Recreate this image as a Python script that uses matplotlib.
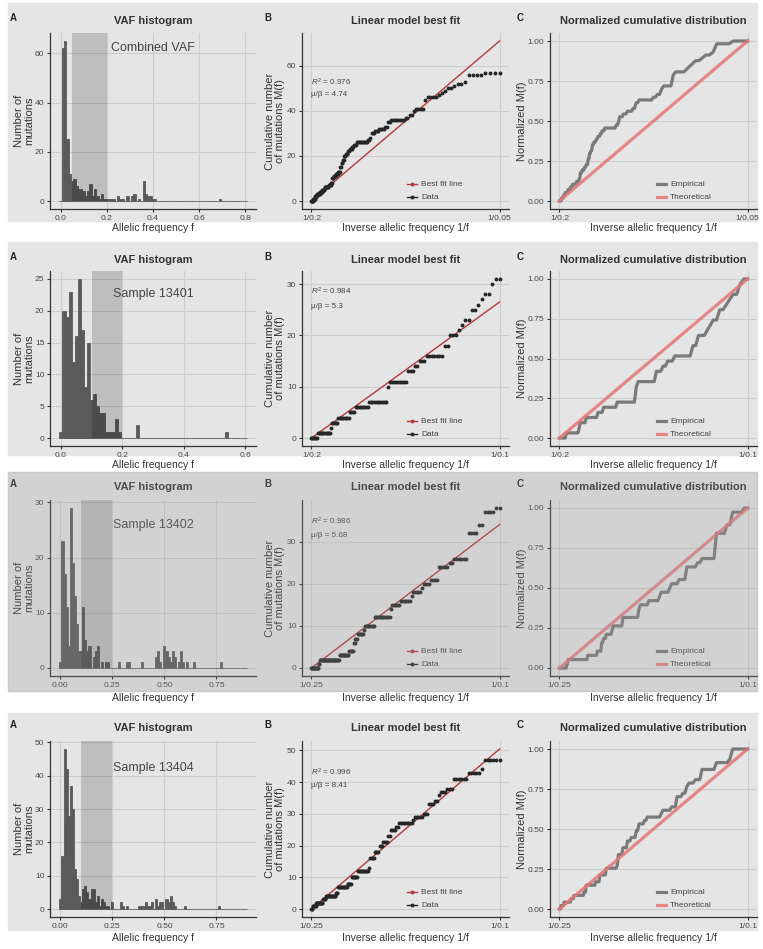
import numpy as np
import matplotlib
matplotlib.use("Agg")
import matplotlib.pyplot as plt
from matplotlib.patches import Rectangle

plt.rcParams['font.family'] = ['Liberation Sans', 'DejaVu Sans']
plt.rcParams['mathtext.fontset'] = 'custom'
plt.rcParams['mathtext.rm'] = 'Liberation Sans'
plt.rcParams['mathtext.it'] = 'Liberation Sans:italic'

W, H = 763, 949

# ---------------- data ----------------
sample_names = ['Combined VAF', 'Sample 13401', 'Sample 13402', 'Sample 13404']
fmin = [0.05, 0.1, 0.1, 0.1]
fmax = [0.2, 0.2, 0.25, 0.25]
r_squared = [0.976, 0.984, 0.986, 0.996]
mu_beta = [4.74, 5.3, 5.68, 8.41]
hist_end = [0.80, 0.60, 0.89, 0.89]

# VAF histogram, bin width 0.01: bin centres with non-zero counts
h1_f = [0.01, 0.02, 0.03, 0.04, 0.05, 0.06, 0.07, 0.08, 0.09, 0.10, 0.11, 0.12, 0.13, 0.14,
        0.15, 0.16, 0.17, 0.18, 0.19, 0.20, 0.21, 0.22, 0.23, 0.25, 0.26, 0.27, 0.29, 0.31,
        0.32, 0.34, 0.36, 0.37, 0.38, 0.39, 0.40, 0.41, 0.69]
h1_n = [62, 65, 25, 11, 8, 9, 6, 5, 5, 4, 2, 4, 7, 2,
        5, 2, 1, 3, 1, 1, 1, 1, 1, 2, 1, 1, 2, 2,
        3, 1, 8, 3, 2, 2, 1, 1, 1]

h2_f = [0.00, 0.01, 0.02, 0.03, 0.04, 0.05, 0.06, 0.07, 0.08, 0.09, 0.10, 0.11, 0.12, 0.13,
        0.14, 0.15, 0.16, 0.17, 0.18, 0.19, 0.25, 0.54]
h2_n = [1, 20, 19, 23, 12, 16, 25, 17, 8, 15, 6, 7, 5, 4,
        4, 1, 1, 1, 3, 1, 2, 1]

h3_f = [0.00, 0.01, 0.02, 0.03, 0.04, 0.05, 0.06, 0.07, 0.08, 0.09, 0.10, 0.11, 0.12, 0.13,
        0.14, 0.16, 0.17, 0.18, 0.20, 0.22, 0.23, 0.28, 0.32, 0.33, 0.39, 0.46, 0.47, 0.48,
        0.50, 0.51, 0.52, 0.53, 0.54, 0.55, 0.57, 0.58, 0.59, 0.61, 0.64, 0.77]
h3_n = [1, 23, 17, 11, 4, 29, 19, 13, 8, 3, 3, 11, 5, 3,
        4, 2, 3, 4, 1, 1, 1, 1, 1, 1, 1, 2, 3, 1,
        4, 3, 2, 1, 3, 2, 1, 3, 1, 1, 1, 1]

h4_f = [0.00, 0.01, 0.02, 0.03, 0.04, 0.05, 0.06, 0.07, 0.08, 0.09, 0.10, 0.11, 0.12, 0.13,
        0.14, 0.15, 0.16, 0.17, 0.18, 0.19, 0.20, 0.21, 0.22, 0.23, 0.25, 0.29, 0.30, 0.32,
        0.38, 0.39, 0.40, 0.41, 0.42, 0.43, 0.44, 0.46, 0.47, 0.48, 0.49, 0.51, 0.52, 0.53,
        0.54, 0.55, 0.60, 0.76]
h4_n = [3, 16, 48, 42, 28, 37, 30, 12, 9, 4, 2, 6, 7, 5,
        3, 6, 6, 2, 4, 1, 3, 2, 1, 1, 2, 2, 1, 1,
        1, 1, 1, 2, 1, 1, 2, 3, 1, 2, 2, 3, 2, 4,
        2, 1, 1, 1]

# cumulative M(f): inverse frequency 1/f where each level starts, and the level
c1_x = [5.0, 5.15, 5.3, 5.45, 5.65, 5.85, 6.05, 6.35, 6.55, 6.65, 6.8, 6.95, 7.1, 7.25,
        7.4, 7.5, 7.6, 7.75, 7.9, 8.05, 8.2, 8.35, 8.6, 9.5, 9.65, 9.8, 10.05, 10.35,
        10.8, 11.05, 11.3, 12.45, 12.75, 13.0, 13.2, 13.9, 14.05, 14.25, 15.0, 15.35, 15.55,
        15.8, 16.2, 16.6, 16.95, 17.35, 18.85]
c1_m = [0, 1, 2, 3, 4, 5, 6, 7, 8, 10, 11, 12, 13, 15,
        17, 18, 20, 21, 22, 23, 24, 25, 26, 27, 28, 30, 31, 32,
        33, 35, 36, 37, 38, 40, 41, 43, 45, 46, 47, 48, 49,
        50, 51, 52, 53, 56, 57]

c2_x = [5.0, 5.16, 5.5, 5.53, 5.69, 6.0, 6.14, 6.5, 7.02, 7.06, 7.56, 7.73, 7.82, 8.02,
        8.5, 8.66, 8.9, 8.97, 9.03, 9.2, 9.4, 9.48, 9.56, 9.76, 9.85]
c2_m = [0, 1, 2, 3, 4, 5, 6, 7, 10, 11, 13, 14, 15, 16,
        18, 20, 21, 22, 23, 25, 26, 27, 28, 30, 31]

c3_x = [4.0, 4.22, 4.26, 4.88, 5.2, 5.345, 5.38, 5.48, 5.68, 5.7, 6.0, 6.5, 6.56, 6.82,
        7.16, 7.24, 7.47, 7.54, 7.8, 8.04, 8.37, 8.52, 8.96, 9.3, 9.5, 9.86]
c3_m = [0, 1, 2, 3, 4, 6, 7, 8, 9, 10, 12, 14, 15, 16,
        17, 18, 19, 20, 21, 24, 25, 26, 32, 34, 37, 38]

c4_x = [4.0, 4.04, 4.14, 4.35, 4.45, 4.78, 4.84, 5.15, 5.27, 5.48, 5.84, 5.88, 5.99, 6.17,
        6.27, 6.45, 6.5, 6.7, 6.77, 7.22, 7.27, 7.52, 7.75, 7.9, 8.02, 8.1, 8.32, 8.5,
        8.96, 9.4, 9.5]
c4_m = [0, 1, 2, 3, 4, 5, 7, 8, 10, 12, 13, 16, 18, 20,
        21, 23, 25, 26, 27, 28, 29, 30, 33, 34, 36, 37, 38, 41,
        43, 44, 47]

hist_f = [h1_f, h2_f, h3_f, h4_f]
hist_n = [h1_n, h2_n, h3_n, h4_n]
cum_x = [c1_x, c2_x, c3_x, c4_x]
cum_m = [c1_m, c2_m, c3_m, c4_m]

hist_xticks = [[0, 0.2, 0.4, 0.6, 0.8], [0, 0.2, 0.4, 0.6], [0, 0.25, 0.5, 0.75], [0, 0.25, 0.5, 0.75]]
hist_xfmt = ['{:.1f}', '{:.1f}', '{:.2f}', '{:.2f}']
hist_yticks = [[0, 20, 40, 60], [0, 5, 10, 15, 20, 25], [0, 10, 20, 30], [0, 10, 20, 30, 40, 50]]
fit_yticks = [[0, 20, 40, 60], [0, 10, 20, 30], [0, 10, 20, 30], [0, 10, 20, 30, 40, 50]]

# ---------------- layout (pixels) ----------------
row_top = [33, 271, 500, 741]
row_bot = [209, 446, 676, 917]
bg_span = [(3, 221), (242, 455), (472, 691), (713, 930)]
xlab_y = [228, 465, 698, 938]
title_y = [21, 260, 487, 728]
cols = [(50, 256), (302, 509), (550, 757)]
name_y = [0.915, 0.87, 0.858, 0.846]
ann_y = [(0.72, 0.653), (0.881, 0.799), (0.88, 0.801), (0.824, 0.748)]

BG = '#e5e5e5'
GRID = '#cdcdcd'
TXT = '#333333'
TICK = '#474747'
BAR = '#5a5a5a'
RED = '#b5393a'
PINK = '#e57676'

fig = plt.figure(figsize=(W / 100, H / 100), dpi=100)


def px_axes(l, r, t, b):
    return fig.add_axes([l / W, 1 - b / H, (r - l) / W, (b - t) / H])


def style(ax):
    ax.set_facecolor('none')
    for s in ['top', 'right']:
        ax.spines[s].set_visible(False)
    for s in ['left', 'bottom']:
        ax.spines[s].set_color(TXT)
        ax.spines[s].set_linewidth(0.9)
    ax.tick_params(length=2.5, width=0.8, color=TXT, labelsize=6.1, labelcolor=TICK, pad=1.5)
    ax.grid(True, color=GRID, lw=0.8)
    ax.set_axisbelow(True)


def cumulative(fhi, flo, jx, jm):
    f = np.round(np.arange(fhi, flo - 1e-9, -0.001), 3)
    x = 1 / f
    idx = np.searchsorted(jx, x + 1e-9, side='right') - 1
    return x, np.asarray(jm)[idx]


for i in range(4):
    t, b = row_top[i], row_bot[i]
    y0, y1 = bg_span[i]
    fig.patches.append(Rectangle((8 / W, 1 - y1 / H), (757 - 8) / W, (y1 - y0) / H,
                                 transform=fig.transFigure, color=BG, zorder=-10))

    # ---- A: VAF histogram ----
    ax = px_axes(cols[0][0], cols[0][1], t, b)
    style(ax)
    centres = np.round(np.arange(0, hist_end[i] + 1e-9, 0.01), 2)
    counts = np.zeros(len(centres))
    for f, n in zip(hist_f[i], hist_n[i]):
        counts[int(round(f / 0.01))] = n
    ax.bar(centres, counts, width=0.01, color=BAR, edgecolor=BAR, linewidth=0.6, zorder=2)
    top = max(counts)
    span = hist_end[i] + 0.01
    ax.set_xlim(-0.005 - 0.05 * span, hist_end[i] + 0.005 + 0.05 * span)
    ax.set_ylim(-0.05 * top, 1.05 * top)
    ax.axvspan(fmin[i], fmax[i], ymin=0.05 / 1.1, ymax=1, color='black', alpha=0.17, lw=0, zorder=3)
    ax.set_xticks(hist_xticks[i])
    ax.set_xticklabels([hist_xfmt[i].format(v) for v in hist_xticks[i]])
    ax.set_yticks(hist_yticks[i])
    ax.text(0.5, name_y[i], sample_names[i], transform=ax.transAxes, ha='center', va='center',
            fontsize=9, color='#444444', zorder=4)

    # ---- B: linear model fit ----
    x, m = cumulative(fmax[i], fmin[i], cum_x[i], cum_m[i])
    x0, x1 = 1 / fmax[i], 1 / fmin[i]
    ax = px_axes(cols[1][0], cols[1][1], t, b)
    style(ax)
    ax.plot([x0, x1], [0, mu_beta[i] * (x1 - x0)], color=RED, lw=1.0, zorder=2)
    ax.plot(x, m, 'o', color='#262626', ms=2.8, mew=0, zorder=3)
    top = max(m.max(), mu_beta[i] * (x1 - x0))
    ax.set_xlim(x0 - 0.05 * (x1 - x0), x1 + 0.05 * (x1 - x0))
    ax.set_ylim(-0.05 * top, 1.05 * top)
    ax.set_xticks([x0, x1])
    ax.set_xticklabels([f'1/{fmax[i]:g}', f'1/{fmin[i]:g}'])
    ax.set_yticks(fit_yticks[i])
    ax.text(0.043, ann_y[i][0], rf'$R^2$ = {r_squared[i]:g}', transform=ax.transAxes,
            fontsize=5.8, color='#444444', va='center')
    ax.text(0.043, ann_y[i][1], f'μ/β = {mu_beta[i]:g}', transform=ax.transAxes,
            fontsize=5.8, color='#444444', va='center')
    for yy, col, lab in [(0.142, RED, 'Best fit line'), (0.068, '#262626', 'Data')]:
        ax.plot([0.505, 0.556], [yy, yy], color=col, lw=1.0, transform=ax.transAxes, clip_on=False)
        ax.plot([0.5305], [yy], 'o', color=col, ms=2.8, mew=0, transform=ax.transAxes, clip_on=False)
        ax.text(0.575, yy, lab, transform=ax.transAxes, fontsize=6, color='#444444', va='center')

    # ---- C: normalized cumulative ----
    ax = px_axes(cols[2][0], cols[2][1], t, b)
    style(ax)
    ax.plot(x, m / m[-1], color='#6e6e6e', lw=2.3, alpha=0.9, zorder=2)
    ax.plot([x0, x1], [0, 1], color=PINK, lw=2.3, alpha=0.85, zorder=3)
    ax.set_xlim(x0 - 0.05 * (x1 - x0), x1 + 0.05 * (x1 - x0))
    ax.set_ylim(-0.05, 1.05)
    ax.set_xticks([x0, x1])
    ax.set_xticklabels([f'1/{fmax[i]:g}', f'1/{fmin[i]:g}'])
    ax.set_yticks([0, 0.25, 0.5, 0.75, 1.0])
    ax.set_yticklabels(['0.00', '0.25', '0.50', '0.75', '1.00'])
    for yy, col, al, lab in [(0.142, '#6e6e6e', 0.9, 'Empirical'), (0.068, PINK, 0.85, 'Theoretical')]:
        ax.plot([0.517, 0.56], [yy, yy], color=col, lw=2.3, alpha=al, transform=ax.transAxes,
                clip_on=False)
        ax.text(0.58, yy, lab, transform=ax.transAxes, fontsize=6, color='#444444', va='center')

    # ---- titles, letters and axis labels ----
    titles = ['VAF histogram', 'Linear model best fit', 'Normalized cumulative distribution']
    letters = ['A', 'B', 'C']
    letter_x = [13, 268, 520]
    ylabs = ['Number of\nmutations', 'Cumulative number\nof mutations M(f)', 'Normalized M(f)']
    ylab_x = [24, 275, 522]
    xlabs = ['Allelic frequency f', 'Inverse allelic frequency 1/f', 'Inverse allelic frequency 1/f']
    for k in range(3):
        cx = (cols[k][0] + cols[k][1]) / 2
        fig.text(cx / W, 1 - title_y[i] / H, titles[k], ha='center', va='center',
                 fontsize=8, fontweight='bold', color=TXT)
        fig.text(letter_x[k] / W, 1 - (title_y[i] - 3) / H, letters[k], ha='center', va='center',
                 fontsize=7, fontweight='bold', color='#222222')
        fig.text(ylab_x[k] / W, 1 - (t + b) / 2 / H, ylabs[k], rotation=90, ha='center',
                 va='center', fontsize=8, color=TXT, linespacing=0.95)
        fig.text(cx / W, 1 - xlab_y[i] / H, xlabs[k], ha='center', va='center',
                 fontsize=7.5, color=TXT)

# third row appears dimmed with a darker grey
y0, y1 = bg_span[2]
fig.patches.append(Rectangle((8 / W, 1 - y1 / H), (757 - 8) / W, (y1 - y0) / H,
                             transform=fig.transFigure, color='#989898', alpha=0.24, zorder=50))

fig.savefig('out.png', dpi=100)
